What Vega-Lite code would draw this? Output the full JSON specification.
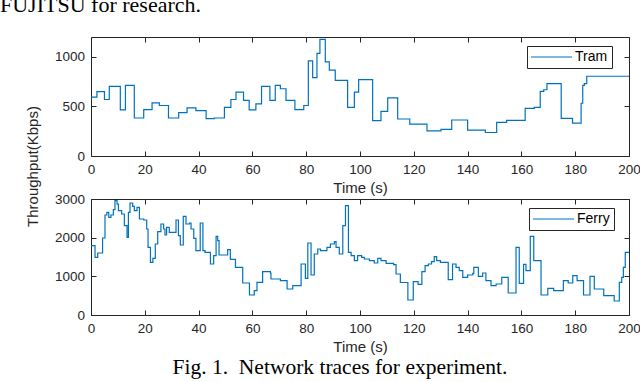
{
  "$schema": "https://vega.github.io/schema/vega-lite/v6.json",
  "background": "white",
  "padding": {"left": 0, "top": -6, "right": 0, "bottom": 0},
  "title": {"text": "FUJITSU for research.", "font": "Liberation Serif", "fontSize": 22, "fontWeight": "normal", "color": "black", "anchor": "start", "baseline": "alphabetic", "offset": 2, "dx": -25},
  "bounds": "flush",
  "spacing": 43,
  "datasets": {
    "tram": [
      {"t": 0, "v": 593}, {"t": 2.2, "v": 650}, {"t": 5, "v": 570}, {"t": 6.8, "v": 702}, {"t": 10.9, "v": 465},
      {"t": 12.8, "v": 712}, {"t": 16.1, "v": 383}, {"t": 19.6, "v": 468}, {"t": 22.7, "v": 536}, {"t": 25.4, "v": 509},
      {"t": 28.8, "v": 383}, {"t": 32.6, "v": 437}, {"t": 35.7, "v": 485}, {"t": 39, "v": 458}, {"t": 42.8, "v": 376},
      {"t": 45.8, "v": 383}, {"t": 49.6, "v": 491}, {"t": 52, "v": 570}, {"t": 53.9, "v": 645}, {"t": 56.7, "v": 560},
      {"t": 58.8, "v": 465}, {"t": 61.3, "v": 526}, {"t": 63.4, "v": 702}, {"t": 66.5, "v": 560}, {"t": 68.5, "v": 712},
      {"t": 70.4, "v": 678}, {"t": 72.5, "v": 560}, {"t": 75.8, "v": 468}, {"t": 79.1, "v": 509}, {"t": 80.8, "v": 960},
      {"t": 82.4, "v": 790}, {"t": 84, "v": 1035}, {"t": 85.1, "v": 1177}, {"t": 87.1, "v": 949}, {"t": 88.6, "v": 865},
      {"t": 90.8, "v": 763}, {"t": 95.4, "v": 491}, {"t": 97.9, "v": 645}, {"t": 99.5, "v": 770}, {"t": 104.7, "v": 356},
      {"t": 107.8, "v": 451}, {"t": 110.3, "v": 587}, {"t": 114, "v": 373}, {"t": 118.5, "v": 322}, {"t": 124.9, "v": 254},
      {"t": 130.1, "v": 268}, {"t": 134.1, "v": 363}, {"t": 140, "v": 261}, {"t": 146.6, "v": 237}, {"t": 150.8, "v": 339},
      {"t": 154.5, "v": 359}, {"t": 161.4, "v": 481}, {"t": 164.8, "v": 491}, {"t": 167, "v": 651}, {"t": 168.3, "v": 668},
      {"t": 169.5, "v": 729}, {"t": 174.8, "v": 380}, {"t": 179, "v": 332}, {"t": 182.2, "v": 532}, {"t": 182.8, "v": 712},
      {"t": 183.4, "v": 729}, {"t": 184.3, "v": 804}, {"t": 200, "v": 804}
    ],
    "ferry": [
      {"t": 0, "v": 1793}, {"t": 1.5, "v": 1491}, {"t": 2.5, "v": 1603}, {"t": 4.3, "v": 1991}, {"t": 5.2, "v": 2586},
      {"t": 5.9, "v": 2655}, {"t": 6.6, "v": 2526}, {"t": 7.4, "v": 2586}, {"t": 8.3, "v": 2724}, {"t": 8.9, "v": 2957},
      {"t": 9.7, "v": 2870}, {"t": 10.2, "v": 2698}, {"t": 11.4, "v": 2612}, {"t": 12.4, "v": 2310}, {"t": 13.4, "v": 2008},
      {"t": 13.9, "v": 2655}, {"t": 14.5, "v": 2896}, {"t": 15.5, "v": 2810}, {"t": 16.1, "v": 2698}, {"t": 17.1, "v": 2784},
      {"t": 18, "v": 2483}, {"t": 19.6, "v": 2457}, {"t": 20.7, "v": 2224}, {"t": 21.2, "v": 1750}, {"t": 22.1, "v": 1362},
      {"t": 23, "v": 1465}, {"t": 23.9, "v": 1836}, {"t": 24.8, "v": 2155}, {"t": 26, "v": 2353}, {"t": 27, "v": 2224},
      {"t": 27.5, "v": 2069}, {"t": 28.1, "v": 2267}, {"t": 29.1, "v": 2138}, {"t": 31.6, "v": 2457}, {"t": 32.5, "v": 2052},
      {"t": 33.2, "v": 1810}, {"t": 34.3, "v": 2552}, {"t": 35.3, "v": 2353}, {"t": 36.6, "v": 2379}, {"t": 37.2, "v": 2224},
      {"t": 38.2, "v": 1983}, {"t": 39, "v": 1664}, {"t": 40.6, "v": 2379}, {"t": 41.6, "v": 1664}, {"t": 42.4, "v": 1621},
      {"t": 44.4, "v": 1319}, {"t": 45.6, "v": 1534}, {"t": 46.5, "v": 2034}, {"t": 47.1, "v": 1922}, {"t": 47.6, "v": 1552},
      {"t": 50.8, "v": 1690}, {"t": 51.8, "v": 1440}, {"t": 53.7, "v": 1233}, {"t": 56.4, "v": 828}, {"t": 58.9, "v": 517},
      {"t": 60.7, "v": 629}, {"t": 61.7, "v": 845}, {"t": 63.8, "v": 1121}, {"t": 66.7, "v": 1086}, {"t": 66.9, "v": 931},
      {"t": 70.4, "v": 888}, {"t": 72.9, "v": 672}, {"t": 75, "v": 759}, {"t": 78.1, "v": 1319}, {"t": 79.7, "v": 948},
      {"t": 80.6, "v": 1862}, {"t": 81.8, "v": 1034}, {"t": 83, "v": 1577}, {"t": 84.3, "v": 1707}, {"t": 85.3, "v": 1664},
      {"t": 87.7, "v": 1750}, {"t": 89, "v": 1836}, {"t": 90.5, "v": 1896}, {"t": 91.1, "v": 1750}, {"t": 92.3, "v": 1577},
      {"t": 93.6, "v": 2310}, {"t": 94.6, "v": 2827}, {"t": 95.7, "v": 1621}, {"t": 96.7, "v": 1534}, {"t": 97.9, "v": 1405},
      {"t": 99.1, "v": 1534}, {"t": 100.6, "v": 1491}, {"t": 101.6, "v": 1448}, {"t": 103.5, "v": 1405}, {"t": 105.3, "v": 1345},
      {"t": 106.6, "v": 1465}, {"t": 107.8, "v": 1405}, {"t": 109.7, "v": 1336}, {"t": 112.5, "v": 1302}, {"t": 113.4, "v": 1060},
      {"t": 115, "v": 840}, {"t": 117.8, "v": 388}, {"t": 119.8, "v": 862}, {"t": 121.6, "v": 790}, {"t": 123, "v": 1121},
      {"t": 124.2, "v": 1276}, {"t": 125.4, "v": 1319}, {"t": 126.6, "v": 1379}, {"t": 127.6, "v": 1508}, {"t": 128.5, "v": 1405},
      {"t": 129.9, "v": 1362}, {"t": 132.8, "v": 914}, {"t": 134.4, "v": 1319}, {"t": 135.7, "v": 1233}, {"t": 136.9, "v": 1147},
      {"t": 138.2, "v": 974}, {"t": 140, "v": 1034}, {"t": 141.9, "v": 1078}, {"t": 142.3, "v": 1233}, {"t": 144, "v": 1000},
      {"t": 145.6, "v": 1086}, {"t": 146.8, "v": 888}, {"t": 148.7, "v": 759}, {"t": 150.6, "v": 802}, {"t": 152.7, "v": 974},
      {"t": 155.1, "v": 569}, {"t": 158, "v": 1750}, {"t": 159.2, "v": 819}, {"t": 160.8, "v": 1310}, {"t": 161.7, "v": 1147},
      {"t": 163.3, "v": 2034}, {"t": 164.6, "v": 1405}, {"t": 167.3, "v": 517}, {"t": 169.8, "v": 690}, {"t": 172, "v": 629},
      {"t": 175.6, "v": 888}, {"t": 177.4, "v": 828}, {"t": 179.1, "v": 1017}, {"t": 180.7, "v": 888}, {"t": 183.1, "v": 517},
      {"t": 185.5, "v": 1000}, {"t": 187.1, "v": 672}, {"t": 190.6, "v": 500}, {"t": 194.5, "v": 362}, {"t": 196.4, "v": 845},
      {"t": 197.3, "v": 974}, {"t": 197.9, "v": 1233}, {"t": 198.6, "v": 1621}, {"t": 200, "v": 1621}
    ]
  },
  "vconcat": [
    {
      "width": 538,
      "height": 119,
      "data": {"name": "tram"},
      "layer": [
        {
          "mark": {"type": "line", "interpolate": "step-after", "strokeWidth": 1.2},
          "encoding": {
            "x": {"field": "t", "type": "quantitative", "scale": {"domain": [0, 200], "nice": false},
                  "axis": {"orient": "bottom", "title": "Time (s)", "values": [0, 20, 40, 60, 80, 100, 120, 140, 160, 180, 200]}},
            "y": {"field": "v", "type": "quantitative", "scale": {"domain": [0, 1200], "nice": false},
                  "axis": {"orient": "left", "title": "Throughput(Kbps)", "format": "d", "values": [0, 500, 1000], "titleX": -58.5, "titleY": 129, "titleAngle": 270, "titleAlign": "center", "titleBaseline": "middle"}},
            "stroke": {"datum": "Tram", "type": "nominal", "scale": {"range": ["#0072BD"]},
                       "legend": {"title": null, "orient": "none", "legendX": 436, "legendY": 9}}
          }
        },
        {
          "mark": {"type": "line", "interpolate": "step-after", "opacity": 0},
          "encoding": {
            "x": {"field": "t", "type": "quantitative", "axis": {"orient": "top", "labels": false, "title": null, "values": [0, 20, 40, 60, 80, 100, 120, 140, 160, 180, 200]}},
            "y": {"field": "v", "type": "quantitative", "axis": {"orient": "right", "labels": false, "title": null, "values": [0, 500, 1000]}}
          }
        }
      ],
      "resolve": {"axis": {"x": "independent", "y": "independent"}}
    },
    {
      "width": 538,
      "height": 116,
      "data": {"name": "ferry"},
      "title": {"text": "Fig. 1.\u2002Network traces for experiment.", "orient": "bottom", "anchor": "middle", "frame": "group", "font": "Liberation Serif", "fontSize": 21.5, "fontWeight": "normal", "color": "black", "baseline": "top", "offset": 2, "dx": -20},
      "layer": [
        {
          "mark": {"type": "line", "interpolate": "step-after", "strokeWidth": 1.2},
          "encoding": {
            "x": {"field": "t", "type": "quantitative", "scale": {"domain": [0, 200], "nice": false},
                  "axis": {"orient": "bottom", "title": "Time (s)", "values": [0, 20, 40, 60, 80, 100, 120, 140, 160, 180, 200]}},
            "y": {"field": "v", "type": "quantitative", "scale": {"domain": [0, 3000], "nice": false},
                  "axis": {"orient": "left", "title": null, "format": "d", "values": [0, 1000, 2000, 3000]}},
            "stroke": {"datum": "Ferry", "type": "nominal", "scale": {"range": ["#0072BD"]},
                       "legend": {"title": null, "orient": "none", "legendX": 438, "legendY": 9}}
          }
        },
        {
          "mark": {"type": "line", "interpolate": "step-after", "opacity": 0},
          "encoding": {
            "x": {"field": "t", "type": "quantitative", "axis": {"orient": "top", "labels": false, "title": null, "values": [0, 20, 40, 60, 80, 100, 120, 140, 160, 180, 200]}},
            "y": {"field": "v", "type": "quantitative", "axis": {"orient": "right", "labels": false, "title": null, "values": [0, 1000, 2000, 3000]}}
          }
        }
      ],
      "resolve": {"axis": {"x": "independent", "y": "independent"}}
    }
  ],
  "resolve": {"scale": {"x": "independent", "y": "independent", "stroke": "independent"}, "legend": {"stroke": "independent"}},
  "config": {
    "view": {"stroke": "#262626", "strokeWidth": 1},
    "axis": {
      "grid": false, "domain": false, "ticks": true, "tickColor": "#262626", "tickSize": -5, "tickWidth": 1,
      "labelFont": "Liberation Sans", "labelFontSize": 13.5, "labelColor": "#262626", "labelFlush": false, "labelOverlap": false,
      "titleFont": "Liberation Sans", "titleFontSize": 15, "titleFontWeight": "normal", "titleColor": "#262626"
    },
    "axisX": {"labelPadding": 11.5, "titlePadding": 4.5},
    "axisY": {"labelPadding": 11.5},
    "legend": {
      "strokeColor": "#262626", "fillColor": "white", "padding": 4, "labelFont": "Liberation Sans", "labelFontSize": 14,
      "labelColor": "black", "symbolType": "M-7,0H34", "symbolSize": 4, "symbolStrokeWidth": 1.2, "labelOffset": 30, "cornerRadius": 0
    }
  }
}
